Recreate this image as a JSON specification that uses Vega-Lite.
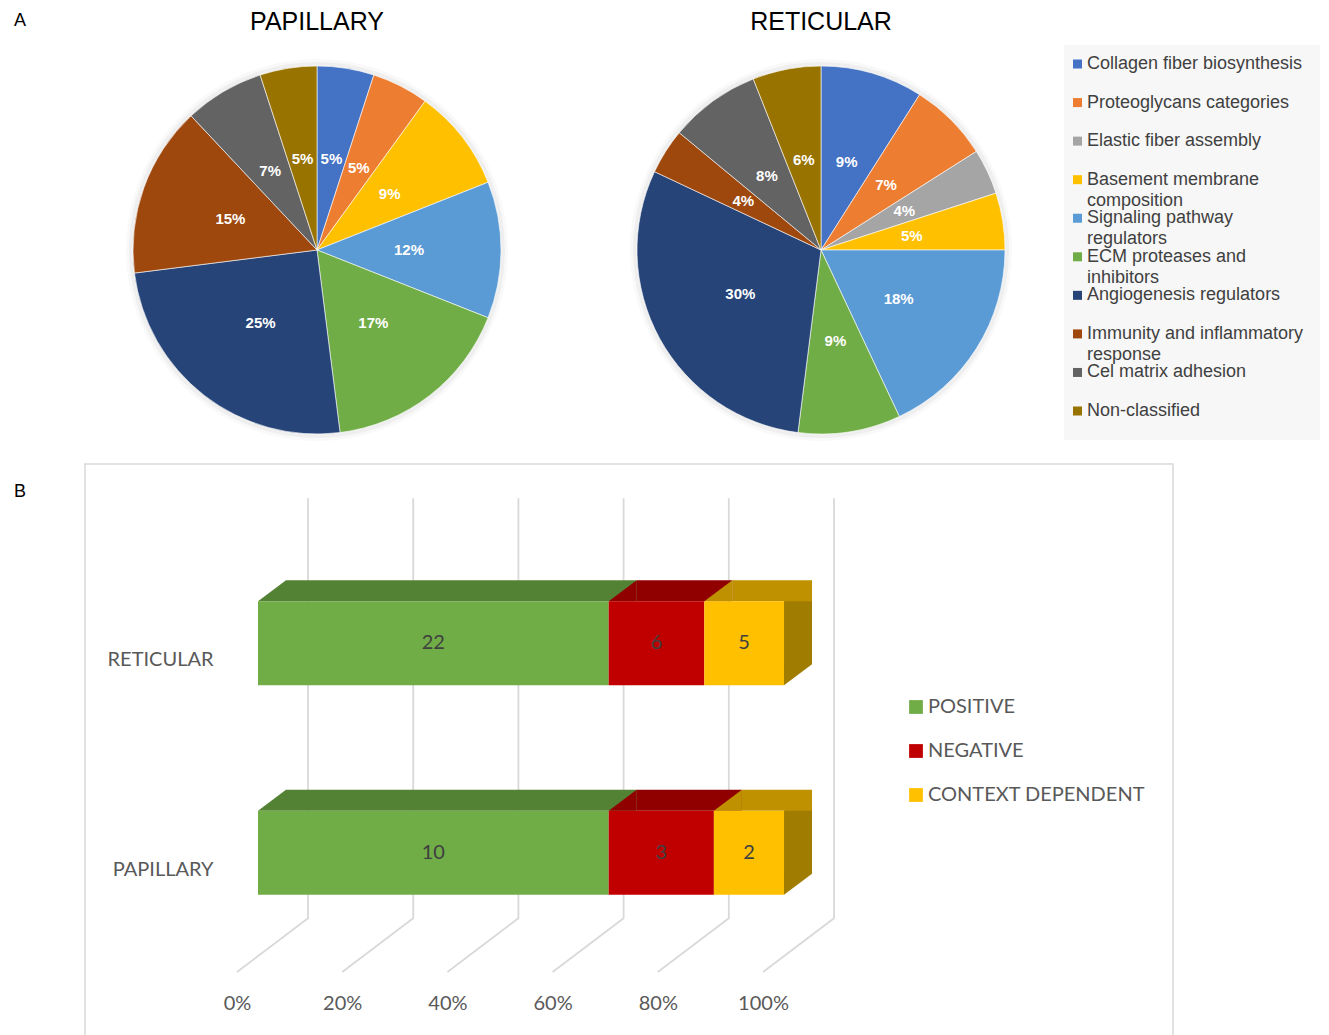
{
  "$schema": "https://vega.github.io/schema/vega-lite/v6.json",
  "padding": {"left": 13, "top": 9, "right": 0, "bottom": 0},
  "background": "#ffffff",
  "config": {"view": {"stroke": null}, "font": "Liberation Sans"},
  "datasets": {
    "pap": [
      {"cat": "Collagen fiber biosynthesis", "k": 1, "share": 0.05},
      {"cat": "Proteoglycans categories", "k": 2, "share": 0.05},
      {"cat": "Basement membrane composition", "k": 4, "share": 0.09},
      {"cat": "Signaling pathway regulators", "k": 5, "share": 0.12},
      {"cat": "ECM proteases and inhibitors", "k": 6, "share": 0.17},
      {"cat": "Angiogenesis regulators", "k": 7, "share": 0.25},
      {"cat": "Immunity and inflammatory response", "k": 8, "share": 0.15},
      {"cat": "Cel matrix adhesion", "k": 9, "share": 0.07},
      {"cat": "Non-classified", "k": 10, "share": 0.05}
    ],
    "ret": [
      {"cat": "Collagen fiber biosynthesis", "k": 1, "share": 0.09},
      {"cat": "Proteoglycans categories", "k": 2, "share": 0.07},
      {"cat": "Elastic fiber assembly", "k": 3, "share": 0.04},
      {"cat": "Basement membrane composition", "k": 4, "share": 0.05},
      {"cat": "Signaling pathway regulators", "k": 5, "share": 0.18},
      {"cat": "ECM proteases and inhibitors", "k": 6, "share": 0.09},
      {"cat": "Angiogenesis regulators", "k": 7, "share": 0.30},
      {"cat": "Immunity and inflammatory response", "k": 8, "share": 0.04},
      {"cat": "Cel matrix adhesion", "k": 9, "share": 0.08},
      {"cat": "Non-classified", "k": 10, "share": 0.06}
    ],
    "cats": [
      {"cat": "Collagen fiber biosynthesis", "k": 1},
      {"cat": "Proteoglycans categories", "k": 2},
      {"cat": "Elastic fiber assembly", "k": 3},
      {"cat": "Basement membrane composition", "k": 4},
      {"cat": "Signaling pathway regulators", "k": 5},
      {"cat": "ECM proteases and inhibitors", "k": 6},
      {"cat": "Angiogenesis regulators", "k": 7},
      {"cat": "Immunity and inflammatory response", "k": 8},
      {"cat": "Cel matrix adhesion", "k": 9},
      {"cat": "Non-classified", "k": 10}
    ],
    "bars": [
      {"loc": "RETICULAR", "eff": "POSITIVE", "k": 1, "n": 22},
      {"loc": "RETICULAR", "eff": "NEGATIVE", "k": 2, "n": 6},
      {"loc": "RETICULAR", "eff": "CONTEXT DEPENDENT", "k": 3, "n": 5},
      {"loc": "PAPILLARY", "eff": "POSITIVE", "k": 1, "n": 10},
      {"loc": "PAPILLARY", "eff": "NEGATIVE", "k": 2, "n": 3},
      {"loc": "PAPILLARY", "eff": "CONTEXT DEPENDENT", "k": 3, "n": 2}
    ],
    "ticks": [{"t": 0}, {"t": 0.2}, {"t": 0.4}, {"t": 0.6}, {"t": 0.8}, {"t": 1}]
  },
  "spacing": 8,
  "vconcat": [
    {
      "title": {"text": "A", "anchor": "start", "orient": "top", "frame": "bounds", "offset": -34.4, "dx": -71, "fontSize": 18, "fontWeight": "normal", "font": "Liberation Sans", "color": "#000000", "baseline": "alphabetic"},
      "spacing": 11,
      "hconcat": [
        {
          "spacing": 40,
          "hconcat": [
            {
              "width": 464, "height": 410,
              "data": {"name": "pap"},
              "title": {"text": "PAPILLARY", "fontSize": 25, "font": "Liberation Sans", "fontWeight": "normal", "color": "#000000", "baseline": "alphabetic", "offset": -9.6, "anchor": "middle"},
              "encoding": {
                "theta": {"field": "share", "type": "quantitative", "stack": true},
                "order": {"field": "k", "type": "quantitative"}
              },
              "layer": [
                {"mark": {"type": "arc", "outerRadius": 191, "fill": "#000000", "opacity": 0.025, "strokeWidth": 0}},
                {"mark": {"type": "arc", "outerRadius": 188, "fill": "#000000", "opacity": 0.04, "strokeWidth": 0}},
                {"mark": {"type": "arc", "outerRadius": 184, "stroke": "#ffffff", "strokeWidth": 0.6},
                 "encoding": {"color": {"field": "cat", "type": "nominal", "legend": null,
                   "scale": {"domain": ["Collagen fiber biosynthesis", "Proteoglycans categories", "Elastic fiber assembly", "Basement membrane composition", "Signaling pathway regulators", "ECM proteases and inhibitors", "Angiogenesis regulators", "Immunity and inflammatory response", "Cel matrix adhesion", "Non-classified"],
                             "range": ["#4472C4", "#ED7D31", "#A5A5A5", "#FFC000", "#5B9BD5", "#70AD47", "#264478", "#9E480E", "#636363", "#997300"]}}}},
                {"mark": {"type": "text", "radius": 92, "font": "Liberation Sans", "fontSize": 15, "fontWeight": "bold", "baseline": "middle"},
                 "encoding": {"text": {"field": "share", "type": "quantitative", "format": ".0%"}, "color": {"value": "#ffffff"}}}
              ]
            },
            {
              "width": 464, "height": 410,
              "data": {"name": "ret"},
              "title": {"text": "RETICULAR", "fontSize": 25, "font": "Liberation Sans", "fontWeight": "normal", "color": "#000000", "baseline": "alphabetic", "offset": -9.6, "anchor": "middle"},
              "encoding": {
                "theta": {"field": "share", "type": "quantitative", "stack": true},
                "order": {"field": "k", "type": "quantitative"}
              },
              "layer": [
                {"mark": {"type": "arc", "outerRadius": 191, "fill": "#000000", "opacity": 0.025, "strokeWidth": 0}},
                {"mark": {"type": "arc", "outerRadius": 188, "fill": "#000000", "opacity": 0.04, "strokeWidth": 0}},
                {"mark": {"type": "arc", "outerRadius": 184, "stroke": "#ffffff", "strokeWidth": 0.6},
                 "encoding": {"color": {"field": "cat", "type": "nominal", "legend": null,
                   "scale": {"domain": ["Collagen fiber biosynthesis", "Proteoglycans categories", "Elastic fiber assembly", "Basement membrane composition", "Signaling pathway regulators", "ECM proteases and inhibitors", "Angiogenesis regulators", "Immunity and inflammatory response", "Cel matrix adhesion", "Non-classified"],
                             "range": ["#4472C4", "#ED7D31", "#A5A5A5", "#FFC000", "#5B9BD5", "#70AD47", "#264478", "#9E480E", "#636363", "#997300"]}}}},
                {"mark": {"type": "text", "radius": 92, "font": "Liberation Sans", "fontSize": 15, "fontWeight": "bold", "baseline": "middle"},
                 "encoding": {"text": {"field": "share", "type": "quantitative", "format": ".0%"}, "color": {"value": "#ffffff"}}}
              ]
            }
          ]
        },
        {
          "width": 256, "height": 395,
          "data": {"name": "cats"},
          "view": {"fill": "#f7f7f7", "stroke": null},
          "transform": [{"calculate": "length(datum.cat) > 27 ? [slice(datum.cat, 0, lastindexof(datum.cat, ' ')), slice(datum.cat, lastindexof(datum.cat, ' ') + 1)] : datum.cat", "as": "lab"}],
          "encoding": {
            "y": {"field": "cat", "type": "nominal", "sort": {"field": "k", "op": "min"}, "axis": null,
                  "scale": {"type": "point", "padding": 0.6225, "align": 0.396}}
          },
          "layer": [
            {"mark": {"type": "point", "shape": "square", "size": 81, "filled": true, "opacity": 1, "xOffset": -114.5},
             "encoding": {"color": {"field": "cat", "type": "nominal", "legend": null,
               "scale": {"domain": ["Collagen fiber biosynthesis", "Proteoglycans categories", "Elastic fiber assembly", "Basement membrane composition", "Signaling pathway regulators", "ECM proteases and inhibitors", "Angiogenesis regulators", "Immunity and inflammatory response", "Cel matrix adhesion", "Non-classified"],
                         "range": ["#4472C4", "#ED7D31", "#A5A5A5", "#FFC000", "#5B9BD5", "#70AD47", "#264478", "#9E480E", "#636363", "#997300"]}}}},
            {"mark": {"type": "text", "align": "left", "baseline": "middle", "dx": -105, "font": "Liberation Sans", "fontSize": 18, "lineHeight": 21, "color": "#404040"},
             "encoding": {"text": {"field": "lab", "type": "nominal"}}}
          ]
        }
      ]
    },
    {
      "width": 1088, "height": 572,
      "data": {"name": "bars"},
      "view": {"stroke": "#d9d9d9", "strokeWidth": 1.5},
      "title": {"text": "B", "anchor": "start", "frame": "group", "offset": -51, "dx": -71, "fontSize": 18, "fontWeight": "normal", "font": "Liberation Sans", "color": "#000000", "baseline": "alphabetic"},
      "resolve": {"scale": {"color": "independent"}},
      "layer": [
        {
          "data": {"name": "ticks"},
          "mark": {"type": "point", "shape": "M50,-251.7L50,168.3L-21,222", "size": 4, "filled": false, "stroke": "#d9d9d9", "strokeWidth": 1.8, "opacity": 1},
          "encoding": {
            "x": {"field": "t", "type": "quantitative",
                  "scale": {"domain": [-0.3289, 1.7395], "nice": false, "zero": false},
                  "axis": {"orient": "bottom", "offset": -33, "values": [0, 0.2, 0.4, 0.6, 0.8, 1], "format": ".0%", "labelOffset": -21, "labelPadding": 0, "labelBaseline": "middle", "domain": false, "ticks": false, "grid": false, "title": null, "labelFont": "Lato", "labelFontSize": 20, "labelColor": "#595959", "labelFlush": false, "labelOverlap": false}}
          }
        },
        {
          "transform": [{"filter": "datum.eff == 'CONTEXT DEPENDENT'"}],
          "mark": {"type": "point", "shape": "M0,-42L28,-63L28,21L0,42Z", "size": 4, "filled": true, "fill": "#a07d00", "strokeWidth": 0, "opacity": 1},
          "encoding": {
            "x": {"field": "n", "type": "quantitative", "stack": "normalize",
                  "scale": {"domain": [-0.3289, 1.7395], "nice": false, "zero": false},
                  "axis": {"orient": "bottom", "offset": -33, "values": [0, 0.2, 0.4, 0.6, 0.8, 1], "format": ".0%", "labelOffset": -21, "labelPadding": 0, "labelBaseline": "middle", "domain": false, "ticks": false, "grid": false, "title": null, "labelFont": "Lato", "labelFontSize": 20, "labelColor": "#595959", "labelFlush": false, "labelOverlap": false}},
            "y": {"field": "loc", "type": "nominal", "sort": ["RETICULAR", "PAPILLARY"],
                  "scale": {"type": "band", "paddingInner": 0.599, "paddingOuter": 0.665, "align": 0.493},
                  "axis": {"orient": "left", "offset": -132, "labelPadding": 4, "labelOffset": 17, "domain": false, "ticks": false, "grid": false, "title": null, "labelFont": "Lato", "labelFontSize": 20, "labelColor": "#595959", "labelAlign": "right", "labelBaseline": "middle"}},
            "detail": {"field": "eff", "type": "nominal"}
          }
        },
        {
          "mark": {"type": "bar", "height": 21, "yOffset": -52.5, "xOffset": 28, "x2Offset": 28, "opacity": 1},
          "encoding": {
            "x": {"field": "n", "type": "quantitative", "stack": "normalize",
                  "scale": {"domain": [-0.3289, 1.7395], "nice": false, "zero": false},
                  "axis": {"orient": "bottom", "offset": -33, "values": [0, 0.2, 0.4, 0.6, 0.8, 1], "format": ".0%", "labelOffset": -21, "labelPadding": 0, "labelBaseline": "middle", "domain": false, "ticks": false, "grid": false, "title": null, "labelFont": "Lato", "labelFontSize": 20, "labelColor": "#595959", "labelFlush": false, "labelOverlap": false}},
            "y": {"field": "loc", "type": "nominal", "sort": ["RETICULAR", "PAPILLARY"],
                  "scale": {"type": "band", "paddingInner": 0.599, "paddingOuter": 0.665, "align": 0.493},
                  "axis": {"orient": "left", "offset": -132, "labelPadding": 4, "labelOffset": 17, "domain": false, "ticks": false, "grid": false, "title": null, "labelFont": "Lato", "labelFontSize": 20, "labelColor": "#595959", "labelAlign": "right", "labelBaseline": "middle"}},
            "color": {"field": "eff", "type": "nominal", "legend": null, "scale": {"domain": ["POSITIVE", "NEGATIVE", "CONTEXT DEPENDENT"], "range": ["#548235", "#900000", "#bf9000"]}},
            "order": {"field": "k", "type": "quantitative"}
          }
        },
        {
          "mark": {"type": "point", "shape": "M0,-42L28,-63L28,-42Z", "size": 4, "filled": true, "strokeWidth": 0, "opacity": 1},
          "encoding": {
            "x": {"field": "n", "type": "quantitative", "stack": "normalize", "bandPosition": 0,
                  "scale": {"domain": [-0.3289, 1.7395], "nice": false, "zero": false},
                  "axis": {"orient": "bottom", "offset": -33, "values": [0, 0.2, 0.4, 0.6, 0.8, 1], "format": ".0%", "labelOffset": -21, "labelPadding": 0, "labelBaseline": "middle", "domain": false, "ticks": false, "grid": false, "title": null, "labelFont": "Lato", "labelFontSize": 20, "labelColor": "#595959", "labelFlush": false, "labelOverlap": false}},
            "y": {"field": "loc", "type": "nominal", "sort": ["RETICULAR", "PAPILLARY"],
                  "scale": {"type": "band", "paddingInner": 0.599, "paddingOuter": 0.665, "align": 0.493},
                  "axis": {"orient": "left", "offset": -132, "labelPadding": 4, "labelOffset": 17, "domain": false, "ticks": false, "grid": false, "title": null, "labelFont": "Lato", "labelFontSize": 20, "labelColor": "#595959", "labelAlign": "right", "labelBaseline": "middle"}},
            "color": {"field": "eff", "type": "nominal", "legend": null, "scale": {"domain": ["POSITIVE", "NEGATIVE", "CONTEXT DEPENDENT"], "range": ["#548235", "#900000", "#bf9000"]}},
            "order": {"field": "k", "type": "quantitative"}
          }
        },
        {
          "mark": {"type": "bar", "opacity": 1},
          "encoding": {
            "x": {"field": "n", "type": "quantitative", "stack": "normalize",
                  "scale": {"domain": [-0.3289, 1.7395], "nice": false, "zero": false},
                  "axis": {"orient": "bottom", "offset": -33, "values": [0, 0.2, 0.4, 0.6, 0.8, 1], "format": ".0%", "labelOffset": -21, "labelPadding": 0, "labelBaseline": "middle", "domain": false, "ticks": false, "grid": false, "title": null, "labelFont": "Lato", "labelFontSize": 20, "labelColor": "#595959", "labelFlush": false, "labelOverlap": false}},
            "y": {"field": "loc", "type": "nominal", "sort": ["RETICULAR", "PAPILLARY"],
                  "scale": {"type": "band", "paddingInner": 0.599, "paddingOuter": 0.665, "align": 0.493},
                  "axis": {"orient": "left", "offset": -132, "labelPadding": 4, "labelOffset": 17, "domain": false, "ticks": false, "grid": false, "title": null, "labelFont": "Lato", "labelFontSize": 20, "labelColor": "#595959", "labelAlign": "right", "labelBaseline": "middle"}},
            "color": {"field": "eff", "type": "nominal",
                      "scale": {"domain": ["POSITIVE", "NEGATIVE", "CONTEXT DEPENDENT"], "range": ["#70AD47", "#C00000", "#FFC000"]},
                      "legend": {"orient": "none", "legendX": 821, "legendY": 233, "title": null, "symbolType": "square", "symbolSize": 190, "symbolStrokeWidth": 0, "labelFont": "Lato", "labelFontSize": 20, "labelColor": "#595959", "rowPadding": 24, "labelOffset": 2, "labelLimit": 400, "padding": 0}},
            "order": {"field": "k", "type": "quantitative"}
          }
        },
        {
          "mark": {"type": "text", "font": "Lato", "fontSize": 20, "baseline": "middle", "color": "#404040"},
          "encoding": {
            "x": {"field": "n", "type": "quantitative", "stack": "normalize", "bandPosition": 0.5,
                  "scale": {"domain": [-0.3289, 1.7395], "nice": false, "zero": false},
                  "axis": {"orient": "bottom", "offset": -33, "values": [0, 0.2, 0.4, 0.6, 0.8, 1], "format": ".0%", "labelOffset": -21, "labelPadding": 0, "labelBaseline": "middle", "domain": false, "ticks": false, "grid": false, "title": null, "labelFont": "Lato", "labelFontSize": 20, "labelColor": "#595959", "labelFlush": false, "labelOverlap": false}},
            "y": {"field": "loc", "type": "nominal", "sort": ["RETICULAR", "PAPILLARY"],
                  "scale": {"type": "band", "paddingInner": 0.599, "paddingOuter": 0.665, "align": 0.493},
                  "axis": {"orient": "left", "offset": -132, "labelPadding": 4, "labelOffset": 17, "domain": false, "ticks": false, "grid": false, "title": null, "labelFont": "Lato", "labelFontSize": 20, "labelColor": "#595959", "labelAlign": "right", "labelBaseline": "middle"}},
            "detail": {"field": "eff", "type": "nominal"},
            "text": {"field": "n", "type": "quantitative"},
            "order": {"field": "k", "type": "quantitative"}
          }
        }
      ]
    }
  ]
}
